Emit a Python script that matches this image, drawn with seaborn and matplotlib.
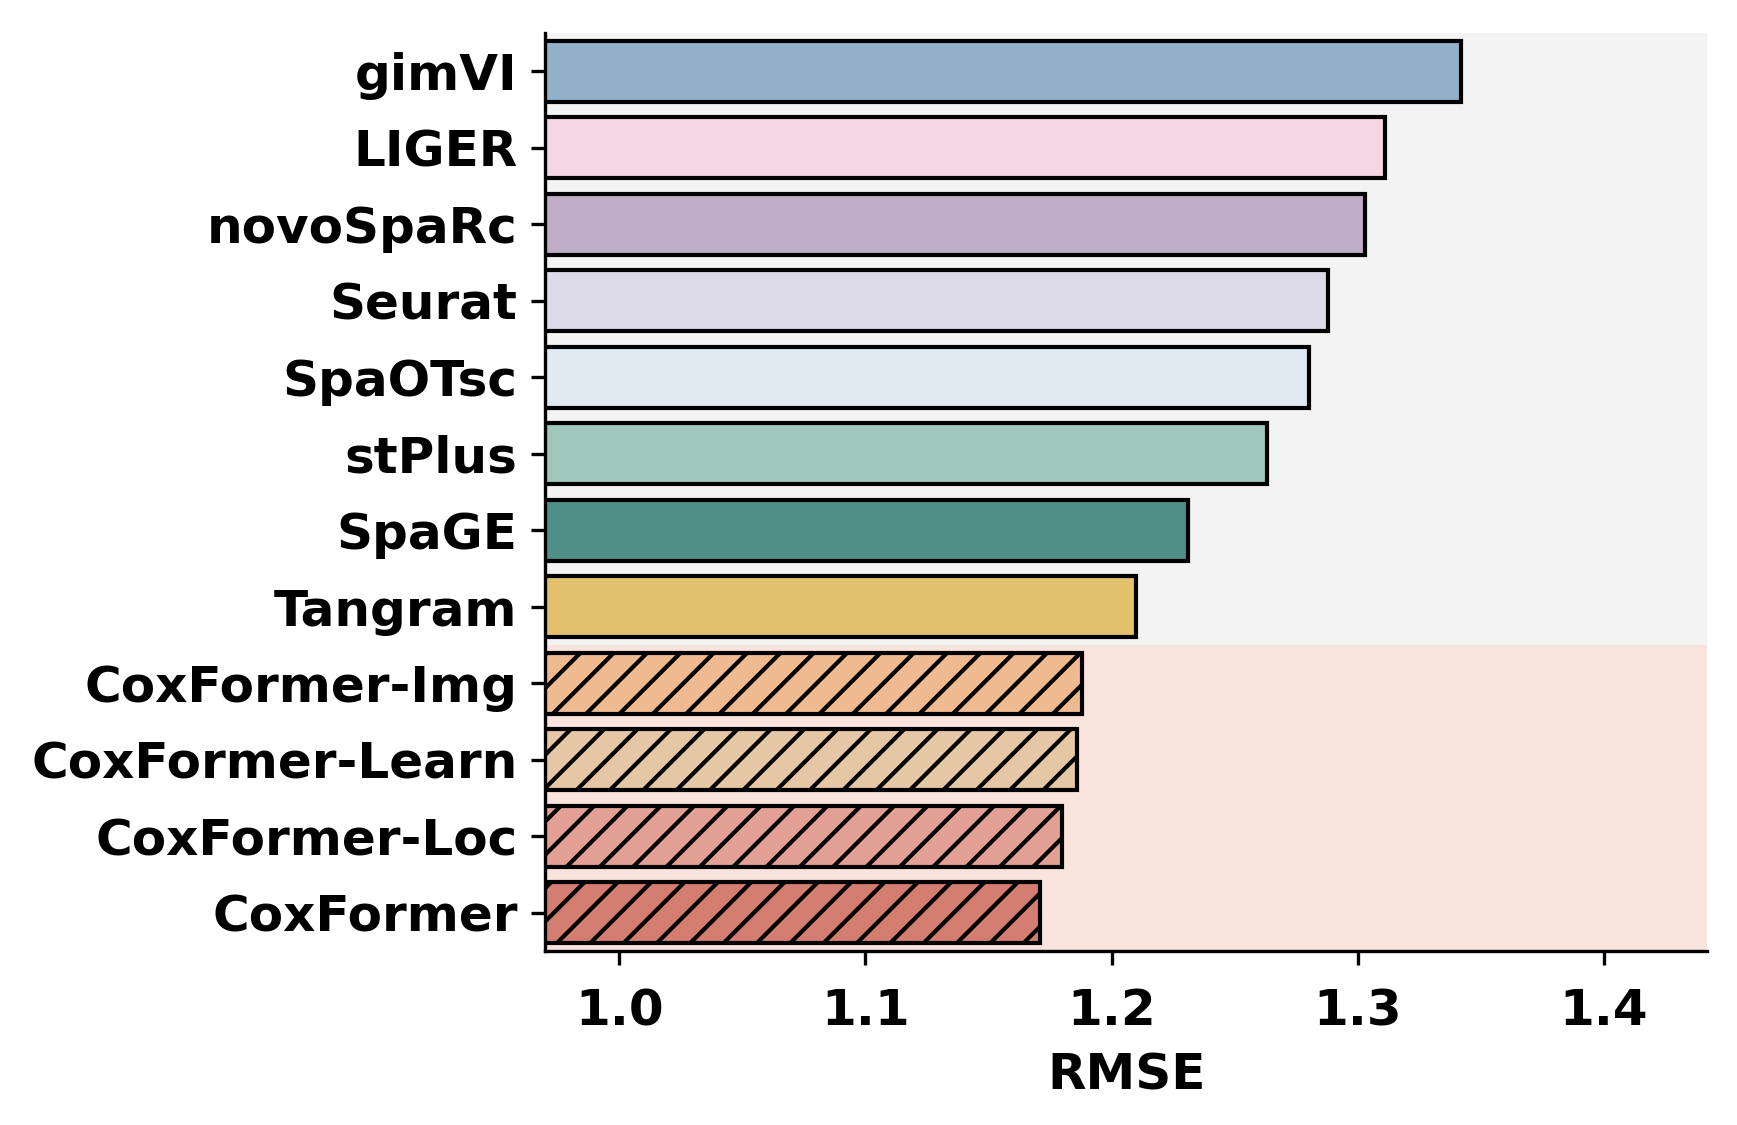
import pandas as pd
import seaborn as sns
import matplotlib.pyplot as plt

# method names (top to bottom) and their RMSE
methods = ["gimVI", "LIGER", "novoSpaRc", "Seurat", "SpaOTsc", "stPlus", "SpaGE",
           "Tangram", "CoxFormer-Img", "CoxFormer-Learn", "CoxFormer-Loc", "CoxFormer"]
rmse = [1.342, 1.311, 1.303, 1.288, 1.280, 1.263, 1.231, 1.210, 1.188, 1.186, 1.180, 1.171]
colors = ["#93B1C9", "#F5D7E3", "#BFADC5", "#DCDAE8", "#E0EAF3", "#9FC7BB", "#4F8F87",
          "#E2C06C", "#EFBA90", "#E6C7A5", "#E3A196", "#D47E72"]
ours = ["CoxFormer-Img", "CoxFormer-Learn", "CoxFormer-Loc", "CoxFormer"]

df = pd.DataFrame({"method": methods, "RMSE": rmse})
palette = dict(zip(methods, colors))

plt.rcParams["hatch.linewidth"] = 1.5
fig = plt.figure(figsize=(8.685, 5.625), dpi=200)
ax = fig.add_axes([0.314, 0.1547, 0.669, 0.816])

# shaded background: baselines vs. our models
n_base = len(methods) - len(ours)
ax.axhspan(-0.5, n_base - 0.5, color="#F2F3F2", zorder=0, lw=0)
ax.axhspan(n_base - 0.5, len(methods) - 0.5, color="#F8E4DD", zorder=0, lw=0)

sns.barplot(data=df, y="method", x="RMSE", hue="method", palette=palette, legend=False,
            edgecolor="black", linewidth=1.5, width=0.8, saturation=1, ax=ax, zorder=2)

# hatch our models
for p in ax.patches:
    if p.get_height() > 1.5:
        continue
    yc = p.get_y() + p.get_height() / 2
    if methods[int(round(yc))] in ours:
        p.set_hatch("//")

ax.set_xlim(0.97, 1.442)
ax.set_ylim(len(methods) - 0.5, -0.5)
sns.despine(ax=ax)
for s in ["left", "bottom"]:
    ax.spines[s].set_linewidth(1.2)
ax.tick_params(axis="both", width=1.2, length=5, labelsize=18)
ax.tick_params(axis="y", pad=5)
ax.tick_params(axis="x", pad=8)
for lab in ax.get_xticklabels() + ax.get_yticklabels():
    lab.set_fontweight("bold")
ax.set_ylabel("")
ax.set_xlabel("RMSE", fontsize=18, fontweight="bold", labelpad=6)

fig.savefig("out.png", dpi=200)
